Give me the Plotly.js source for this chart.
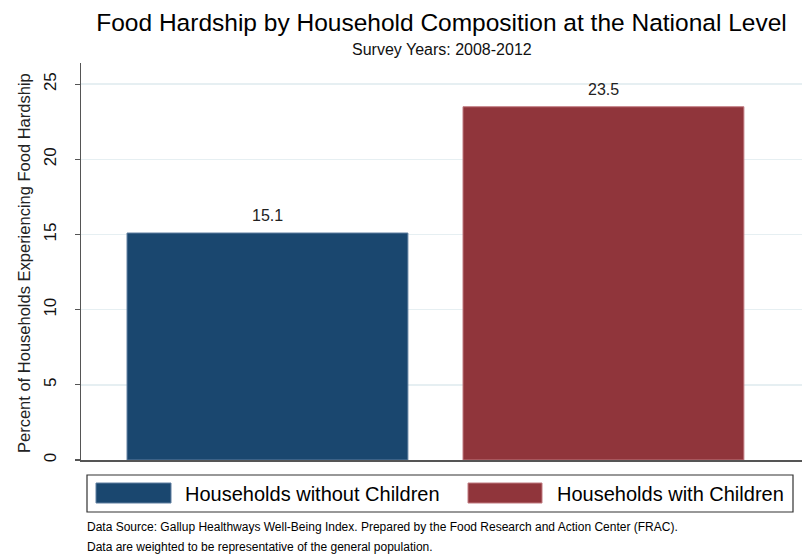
<!DOCTYPE html>
<html>
<head>
<meta charset="utf-8">
<script src="https://cdn.plot.ly/plotly-3.0.1.min.js"></script>
<style>html,body{margin:0;padding:0;background:#fff;}#chart{width:806px;height:555px;}</style>
</head>
<body>
<div id="chart"></div>
<script>
const categories = ["Households without Children", "Households with Children"];
const values = [15.1, 23.5];
const valueLabels = ["15.1", "23.5"];
const colors = ["#1a476f", "#90353b"];
const lineColors = ["#5f7fa0", "#c07a80"];
const yTicks = [0, 5, 10, 15, 20, 25];
const titleText = "Food Hardship by Household Composition at the National Level";
const subtitleText = "Survey Years: 2008-2012";
const yTitleText = "Percent of Households Experiencing Food Hardship";
const notes = [
  "Data Source: Gallup Healthways Well-Being Index. Prepared by the Food Research and Action Center (FRAC).",
  "Data are weighted to be representative of the general population."
];

const NARROW = "Liberation Sans Narrow, Arial Narrow, Liberation Sans, Arial, sans-serif";
const REG = "Liberation Sans, Arial, sans-serif";

// plot geometry (pixels)
const W = 806, H = 555;
const L = 81, R = 802, T = 63, B = 460;
const pw = R - L, ph = B - T;
const px = x => (x - L) / pw;
const py = y => (B - y) / ph;

const traces = categories.map((c, i) => ({
  type: "bar",
  x: [c],
  y: [values[i]],
  name: c,
  width: 0.836,
  marker: {color: colors[i], line: {color: lineColors[i], width: 1}},
  hoverinfo: "none",
  showlegend: false
}));

const annotations = [];
categories.forEach((c, i) => {
  annotations.push({
    x: c, y: values[i], xref: "x", yref: "y",
    text: valueLabels[i], showarrow: false,
    yanchor: "bottom", yshift: 7,
    font: {family: NARROW, size: 16, color: "#222"}
  });
});
annotations.push({
  x: 0.5, y: py(49), xref: "paper", yref: "paper",
  text: subtitleText, showarrow: false, yanchor: "middle",
  font: {family: NARROW, size: 16, color: "#111"}
});
annotations.push({
  x: px(24), y: py(263), xref: "paper", yref: "paper",
  text: yTitleText, showarrow: false, textangle: -90,
  xanchor: "center", yanchor: "middle",
  font: {family: REG, size: 16.5, color: "#222"}
});
// legend texts
const legendSw = [[96, 171], [468, 542]];
const legendTx = [183, 555];
categories.forEach((c, i) => {
  annotations.push({
    x: px(legendTx[i]), y: py(494), xref: "paper", yref: "paper",
    text: c, showarrow: false, xanchor: "left", yanchor: "middle",
    font: {family: NARROW, size: 20, color: "#000"}
  });
});
notes.forEach((n, i) => {
  annotations.push({
    x: px(85), y: py(527 + i * 20), xref: "paper", yref: "paper",
    text: n, showarrow: false, xanchor: "left", yanchor: "middle",
    font: {family: NARROW, size: 12, color: "#000"}
  });
});

const shapes = [
  {type: "rect", xref: "paper", yref: "paper",
   x0: px(87), x1: px(793), y0: py(475), y1: py(512),
   line: {color: "#333", width: 1.2}, fillcolor: "rgba(0,0,0,0)"}
];
categories.forEach((c, i) => {
  shapes.push({type: "rect", xref: "paper", yref: "paper",
    x0: px(legendSw[i][0]), x1: px(legendSw[i][1]), y0: py(483), y1: py(503),
    line: {color: lineColors[i], width: 1}, fillcolor: colors[i]});
});

const layout = {
  width: W, height: H,
  margin: {l: L, r: W - R, t: T, b: H - B, pad: 0},
  paper_bgcolor: "#fff", plot_bgcolor: "#fff",
  barmode: "overlay",
  title: {
    text: titleText, x: 0.5, xref: "paper", y: 1 - 22 / H, yref: "container",
    xanchor: "center", yanchor: "middle",
    font: {family: NARROW, size: 24.5, color: "#000"}
  },
  xaxis: {
    type: "category", range: [-0.555, 1.591],
    showticklabels: false, ticks: "", showgrid: false,
    showline: true, linecolor: "#555", linewidth: 1.5,
    zeroline: false, fixedrange: true
  },
  yaxis: {
    range: [0, 26.41], tickvals: yTicks, ticktext: yTicks.map(String),
    tickangle: -90, ticks: "outside", ticklen: 5, tickcolor: "#555", tickwidth: 1.2,
    ticklabelstandoff: 12,
    tickfont: {family: REG, size: 17, color: "#111"},
    showgrid: true, gridcolor: "#e6eff2", gridwidth: 1.5,
    showline: true, linecolor: "#555", linewidth: 1.5,
    zeroline: false, fixedrange: true
  },
  annotations: annotations,
  shapes: shapes,
  showlegend: false
};

Plotly.newPlot("chart", traces, layout, {displayModeBar: false, staticPlot: true});
</script>
</body>
</html>
